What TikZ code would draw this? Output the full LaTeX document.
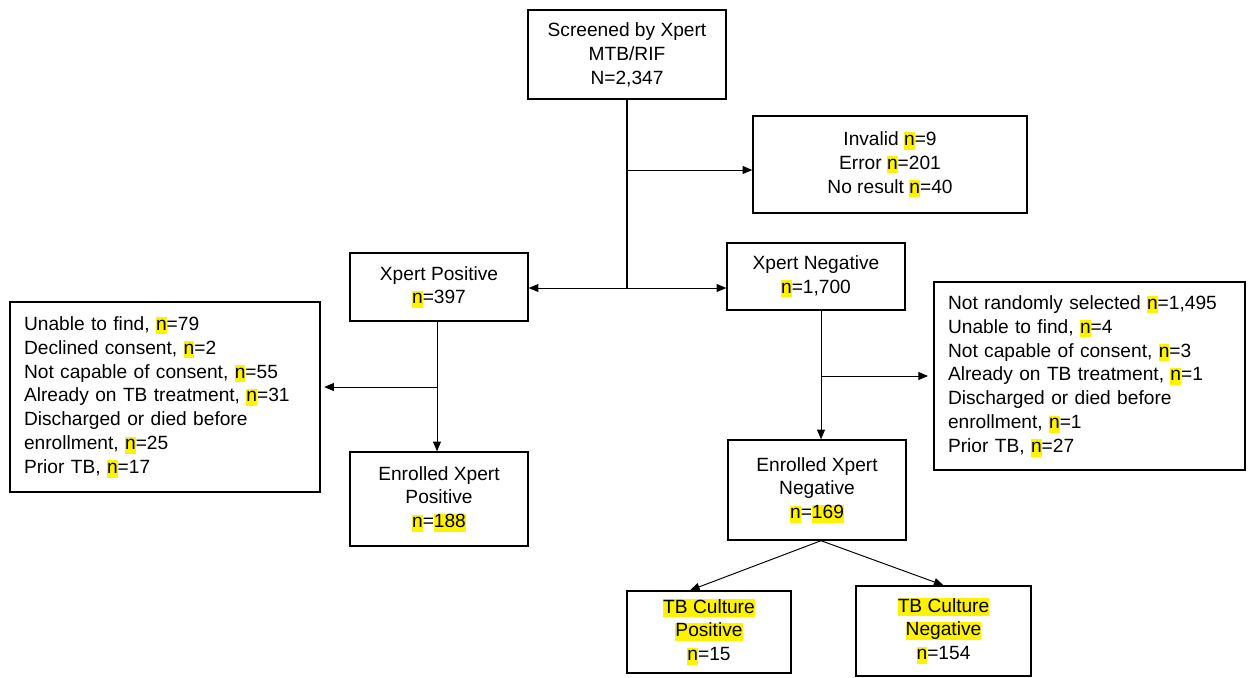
\documentclass[tikz,border=0pt]{standalone}
\usepackage{fontspec}
\setmainfont{Liberation Sans}
\usetikzlibrary{arrows.meta}

\setlength{\fboxsep}{0pt}
\newcommand{\hlt}[1]{\colorbox{yellow}{\vphantom{Ag}#1}}

\begin{document}
\begin{tikzpicture}[x=0.02cm, y=-0.02cm,
        box/.style={draw, line width=0.8pt, inner sep=0pt, align=center,
            font=\fontsize{10.9}{13.6}\selectfont},
        listbox/.style={box, align=left, inner xsep=0.28cm},
        conn/.style={line width=0.55pt, -{Triangle[length=5.5pt, width=4.5pt]}}]
    \useasboundingbox (0,0) rectangle (1253,677);

    % boxes
    \node[box, minimum width=3.96cm, minimum height=1.78cm] (screen) at (627,54.5)
        {Screened by Xpert\\MTB/RIF\\N=2,347};
    \node[box, minimum width=5.48cm, minimum height=1.94cm] (invalid) at (890,164.5)
        {Invalid \hlt{n}=9\\Error \hlt{n}=201\\No result \hlt{n}=40};
    \node[box, minimum width=3.56cm, minimum height=1.36cm] (xpos) at (439,287)
        {Xpert Positive\\\hlt{n}=397};
    \node[box, minimum width=3.56cm, minimum height=1.34cm] (xneg) at (816,276.5)
        {Xpert Negative\\\hlt{n}=1,700};
    \node[listbox, text width=5.64cm, minimum height=3.8cm] (exclL) at (165,397)
        {Unable to find, \hlt{n}=79\\
         Declined consent, \hlt{n}=2\\
         Not capable of consent, \hlt{n}=55\\
         Already on TB treatment, \hlt{n}=31\\
         Discharged or died before\\
         enrollment, \hlt{n}=25\\
         Prior TB, \hlt{n}=17};
    \node[listbox, text width=5.66cm, minimum height=3.76cm] (exclR) at (1089.5,376)
        {Not randomly selected \hlt{n}=1,495\\
         Unable to find, \hlt{n}=4\\
         Not capable of consent, \hlt{n}=3\\
         Already on TB treatment, \hlt{n}=1\\
         Discharged or died before\\
         enrollment, \hlt{n}=1\\
         Prior TB, \hlt{n}=27};
    \node[box, minimum width=3.56cm, minimum height=1.88cm] (enrPos) at (439,499)
        {Enrolled Xpert\\Positive\\\hlt{n}=\hlt{188}};
    \node[box, minimum width=3.56cm, minimum height=2.0cm] (enrNeg) at (817,490)
        {Enrolled Xpert\\Negative\\\hlt{n}=\hlt{169}};
    \node[box, minimum width=3.28cm, minimum height=1.64cm] (culPos) at (709,632)
        {\hlt{TB Culture}\\\hlt{Positive}\\\hlt{n}=15};
    \node[box, minimum width=3.5cm, minimum height=1.8cm] (culNeg) at (943.5,631)
        {\hlt{TB Culture}\\\hlt{Negative}\\\hlt{n}=154};

    % connectors
    \coordinate (j1) at (627,288);
    \coordinate (b1) at (627,170);
    \coordinate (b2) at (437,387);
    \coordinate (b3) at (821,376);
    \draw[line width=1.2pt] (screen.south) -- (j1);
    \draw[conn] (b1) -- (b1 -| invalid.west);
    \draw[conn] (j1) -- (j1 -| xpos.east);
    \draw[conn] (j1) -- (j1 -| xneg.west);
    \draw[conn] (xpos.south -| b2) -- (enrPos.north -| b2);
    \draw[conn] (b2) -- ([xshift=2pt]b2 -| exclL.east);
    \draw[conn] (xneg.south -| b3) -- (enrNeg.north -| b3);
    \draw[conn] (b3) -- ([xshift=-3pt]b3 -| exclR.west);
    \draw[conn] (enrNeg.south -| b3) -- ([xshift=-0.38cm]culPos.north);
    \draw[conn] (enrNeg.south -| b3) -- (culNeg.north);
\end{tikzpicture}
\end{document}
